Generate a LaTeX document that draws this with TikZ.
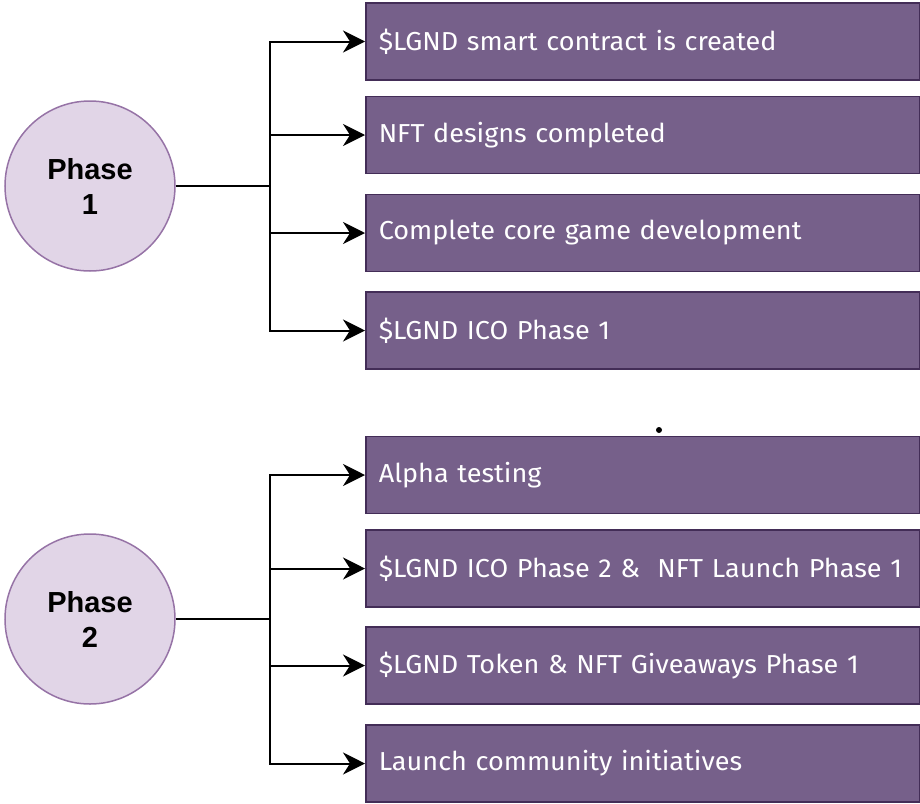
\documentclass[tikz,border=0pt]{standalone}
\usepackage{fontspec}
\setmainfont{Liberation Sans}
\newfontfamily\boxfont[FakeStretch=1.04]{Fira Sans}
\usetikzlibrary{arrows.meta}
\definecolor{boxfill}{HTML}{76608A}
\definecolor{boxdraw}{HTML}{432D57}
\definecolor{circfill}{HTML}{E1D5E7}
\definecolor{circdraw}{HTML}{9673A6}
\tikzset{
  phase/.style={circle, fill=circfill, draw=circdraw, line width=1.5pt, minimum size=170pt, inner sep=0pt, align=center, font=\fontsize{29}{35}\selectfont\bfseries},
  item/.style={rectangle, fill=boxfill, draw=boxdraw, line width=1.5pt, anchor=west, minimum height=77pt, text width=528pt, inner xsep=13pt, align=left, text=white, font=\boxfont\fontsize{26}{30}\selectfont},
  conn/.style={line width=2pt, draw=black},
  arr/.style={conn, -{Stealth[length=22pt, width=22pt, inset=7pt]}},
}
\begin{document}
\begin{tikzpicture}[x=1pt, y=-1pt]
\useasboundingbox (0,0) rectangle (920,803);
\node[phase] (c1) at (90,186) {Phase\\1};
\node[phase] (c2) at (90,619) {Phase\\2};
\node[item] (b1) at (365,41.5) {\$LGND smart contract is created};
\node[item] (b2) at (365,135) {NFT designs completed};
\node[item] (b3) at (365,233) {Complete core game development};
\node[item] (b4) at (365,330.5) {\$LGND ICO Phase 1};
\node[item] (b5) at (365,475) {Alpha testing};
\node[item] (b6) at (365,568.5) {\$LGND ICO Phase 2 \&\ \ NFT Launch Phase 1};
\node[item] (b7) at (365,665.5) {\$LGND Token \& NFT Giveaways Phase 1};
\node[item] (b8) at (365,763.5) {Launch community initiatives};
\coordinate (j1) at (270,186);
\coordinate (j2) at (270,619);
\draw[conn] (c1.east) -- (j1);
\draw[conn] (c2.east) -- (j2);
\foreach \b in {b1,b2,b3,b4} \draw[arr] (j1) |- (\b.west);
\foreach \b in {b5,b6,b7,b8} \draw[arr] (j2) |- (\b.west);
\fill (659,430) circle (3pt);
\end{tikzpicture}
\end{document}
